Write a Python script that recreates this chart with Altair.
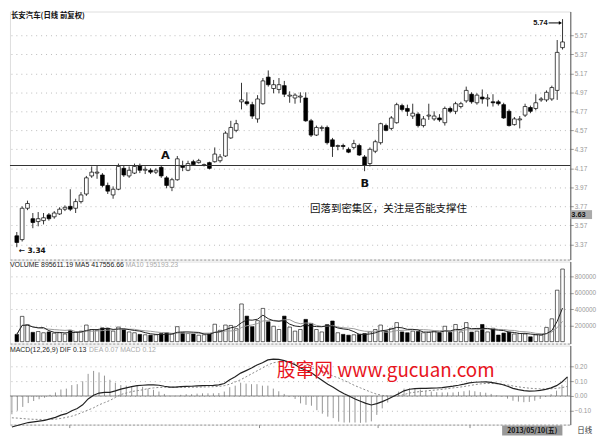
import altair as alt
import pandas as pd

# ---------------- data ----------------
opens = [3.46,3.42,3.75,3.64,3.61,3.62,3.68,3.66,3.69,3.74,
         3.77,3.75,3.82,3.90,4.09,4.12,4.10,3.99,3.89,3.95,
         4.17,4.09,4.12,4.20,4.15,4.15,4.13,4.18,4.07,3.97,
         4.05,4.20,4.15,4.24,4.23,4.20,4.23,4.24,4.25,4.30,
         4.49,4.57,4.87,4.87,4.84,4.69,4.85,5.13,5.01,5.00,
         5.04,4.93,4.91,4.92,4.91,4.67,4.52,4.59,4.60,4.47,
         4.40,4.41,4.37,4.39,4.41,4.29,4.22,4.35,4.44,4.62,
         4.59,4.65,4.83,4.80,4.72,4.74,4.62,4.72,4.69,4.70,
         4.65,4.80,4.77,4.82,4.88,4.95,4.86,4.92,4.90,4.87,
         4.87,4.84,4.77,4.63,4.68,4.73,4.81,4.80,4.89,4.89,
         4.90,4.99,5.44]
closes = [3.39,3.75,3.80,3.60,3.64,3.65,3.64,3.70,3.74,3.76,
          3.74,3.82,3.89,4.07,4.13,4.13,3.99,3.93,3.95,4.19,
          4.10,4.15,4.19,4.15,4.16,4.13,4.15,4.09,3.99,4.05,
          4.27,4.18,4.22,4.21,4.25,4.21,4.17,4.32,4.29,4.54,
          4.60,4.64,4.89,4.85,4.72,4.90,5.09,5.05,5.05,5.05,
          4.95,4.94,4.94,4.93,4.67,4.52,4.60,4.60,4.44,4.40,
          4.41,4.40,4.34,4.43,4.31,4.20,4.37,4.45,4.64,4.57,
          4.70,4.84,4.79,4.77,4.75,4.62,4.69,4.73,4.72,4.68,
          4.80,4.77,4.85,4.85,4.99,4.87,4.94,4.90,4.91,4.86,
          4.85,4.70,4.62,4.69,4.69,4.82,4.77,4.86,4.90,4.97,
          5.02,5.39,5.50]
highs = [3.50,3.77,3.83,3.70,3.71,3.70,3.70,3.72,3.76,3.78,
         3.95,3.85,3.92,4.09,4.19,4.20,4.12,4.02,3.98,4.22,
         4.20,4.19,4.22,4.22,4.19,4.17,4.17,4.20,4.09,4.07,
         4.30,4.25,4.25,4.26,4.27,4.22,4.24,4.39,4.32,4.56,
         4.67,4.68,5.07,4.97,4.87,4.94,5.12,5.20,5.10,5.12,
         5.09,4.98,4.96,4.97,4.97,4.69,4.62,4.62,4.62,4.49,
         4.42,4.43,4.39,4.47,4.43,4.31,4.39,4.47,4.65,4.64,
         4.72,4.86,4.85,4.84,4.85,4.76,4.72,4.85,4.77,4.74,
         4.82,4.82,4.87,4.87,5.03,4.97,4.96,5.00,4.95,4.95,
         4.89,4.86,4.79,4.71,4.72,4.85,4.83,4.95,4.92,4.99,
         5.04,5.52,5.74]
lows = [3.34,3.40,3.73,3.54,3.56,3.58,3.62,3.64,3.68,3.72,
        3.72,3.70,3.80,3.88,4.07,4.06,3.97,3.90,3.85,3.94,
        4.08,4.07,4.11,4.12,4.11,4.11,4.11,4.07,3.96,3.93,
        4.04,4.14,4.14,4.20,4.22,4.19,4.16,4.23,4.23,4.29,
        4.48,4.55,4.79,4.83,4.69,4.65,4.84,5.03,4.96,4.96,
        4.92,4.86,4.85,4.86,4.66,4.50,4.51,4.56,4.42,4.29,
        4.36,4.37,4.33,4.37,4.30,4.14,4.19,4.33,4.42,4.56,
        4.57,4.64,4.77,4.72,4.69,4.60,4.60,4.68,4.67,4.66,
        4.62,4.75,4.74,4.80,4.86,4.85,4.84,4.85,4.82,4.82,
        4.83,4.69,4.61,4.62,4.59,4.71,4.75,4.78,4.87,4.87,
        4.88,4.89,5.42]
volumes = [90000,312000,210000,115000,125000,110000,120000,105000,110000,95000,
           140000,120000,130000,205000,150000,140000,170000,165000,130000,180000,
           150000,120000,110000,90000,85000,80000,85000,100000,110000,95000,
           185000,110000,100000,95000,80000,85000,95000,215000,140000,205000,
           200000,160000,465000,315000,185000,260000,410000,245000,190000,150000,
           315000,180000,130000,150000,275000,225000,150000,120000,210000,255000,
           110000,90000,80000,85000,90000,100000,120000,150000,205000,130000,
           165000,235000,120000,110000,130000,125000,110000,115000,130000,110000,
           190000,115000,212000,120000,235000,118000,130000,212000,120000,165000,
           82000,106000,118000,95000,100000,95000,60000,85000,80000,176000,
           282000,635000,895611]
dif = [-0.21,-0.20,-0.19,-0.18,-0.175,-0.17,-0.165,-0.155,-0.145,-0.13,
       -0.12,-0.10,-0.085,-0.06,-0.02,0.005,0.02,0.024,0.025,0.035,
       0.047,0.055,0.063,0.07,0.073,0.075,0.076,0.073,0.066,0.06,
       0.06,0.063,0.065,0.066,0.068,0.07,0.071,0.072,0.075,0.085,
       0.11,0.13,0.155,0.172,0.19,0.21,0.225,0.245,0.25,0.248,
       0.24,0.228,0.212,0.19,0.175,0.157,0.13,0.105,0.08,0.06,
       0.035,0.015,-0.002,-0.02,-0.036,-0.05,-0.061,-0.052,-0.038,-0.022,
       -0.004,0.015,0.035,0.046,0.05,0.052,0.052,0.053,0.054,0.057,
       0.062,0.067,0.073,0.08,0.089,0.093,0.095,0.096,0.092,0.085,
       0.078,0.066,0.052,0.043,0.036,0.033,0.034,0.038,0.045,0.055,
       0.07,0.095,0.13]
dea = [-0.148,-0.150,-0.153,-0.156,-0.158,-0.159,-0.159,-0.159,-0.157,-0.152,
       -0.145,-0.137,-0.125,-0.11,-0.095,-0.08,-0.06,-0.045,-0.03,-0.01,
       0.01,0.02,0.03,0.036,0.042,0.05,0.055,0.058,0.059,0.059,
       0.059,0.059,0.059,0.06,0.06,0.061,0.062,0.063,0.065,0.07,
       0.08,0.095,0.11,0.13,0.15,0.17,0.19,0.21,0.225,0.232,
       0.233,0.23,0.222,0.215,0.205,0.19,0.178,0.165,0.15,0.135,
       0.122,0.105,0.088,0.07,0.055,0.04,0.025,0.012,0.004,0.0,
       -0.002,0.0,0.01,0.02,0.026,0.03,0.034,0.038,0.041,0.045,
       0.05,0.055,0.059,0.064,0.07,0.077,0.082,0.085,0.085,0.083,
       0.08,0.075,0.068,0.062,0.057,0.053,0.05,0.048,0.048,0.049,
       0.052,0.057,0.065]

price_ticks = [5.57, 5.37, 5.17, 4.97, 4.77, 4.57, 4.37, 4.17, 3.97, 3.77, 3.57, 3.37]
vol_ticks = [200000, 400000, 600000, 800000]
macd_ticks = [-0.10, 0.00, 0.10, 0.20]
date_ticks = [10.6, 45.4, 67.2, 84.0]
support_level = 4.20

df = pd.DataFrame({"i": list(range(len(opens))), "o": opens, "h": highs, "l": lows,
                   "c": closes, "v": volumes, "dif": dif, "dea": dea})

W = 567
CJK = "Noto Sans CJK SC"
SANS = "Liberation Sans"

xs = alt.Scale(domain=[-0.35, 102.53], nice=False, zero=False)
ps = alt.Scale(domain=[3.21, 5.82], nice=False, zero=False)
vs = alt.Scale(domain=[-23500, 988000], nice=False, zero=False)
ms = alt.Scale(domain=[-0.194, 0.342], nice=False, zero=False)

sep_axis = alt.Axis(title=None, labels=False, ticks=False, grid=False, domain=True,
                    domainColor="#999", domainDash=[2, 2], minExtent=0, maxExtent=0)
bottom_axis = alt.Axis(title=None, labels=False, values=date_ticks, ticks=True, tickSize=3,
                       tickColor="#888", grid=False, domain=True, domainColor="#999",
                       domainDash=[2, 2], minExtent=11, maxExtent=11)


def right_axis(values, fmt):
    return alt.Axis(orient="right", values=values, format=fmt, title=None, grid=True,
                    gridColor="#aaa", gridDash=[1, 4], gridWidth=0.8, labelFontSize=6.5,
                    labelColor="#999", labelFont=SANS, tickColor="#999", tickSize=3,
                    domainColor="#555", minExtent=22, maxExtent=22, labelPadding=1)


PAX = right_axis(price_ticks, ".2f")
VAX = right_axis(vol_ticks, "d")
MAX = right_axis(macd_ticks, ".2f")

x_sep = alt.X("i:Q", scale=xs, axis=sep_axis)
x_bot = alt.X("i:Q", scale=xs, axis=bottom_axis)
up = "datum.c >= datum.o"
base = alt.Chart(df)


def py(field):
    return alt.Y(field, scale=ps, axis=PAX)


def vy(field):
    return alt.Y(field, scale=vs, axis=VAX)


def my(field):
    return alt.Y(field, scale=ms, axis=MAX)


# ---------------- price panel ----------------
wick = base.mark_rule(color="black", strokeWidth=0.8).encode(
    x=x_sep, y=py("l:Q"), y2="h:Q")
body = base.mark_bar(size=3.8, stroke="black", strokeWidth=0.7).encode(
    x=x_sep, y=py("o:Q"), y2="c:Q",
    fill=alt.condition(up, alt.value("white"), alt.value("black")))
support = alt.Chart(pd.DataFrame({"p": [support_level]})).mark_rule(
    color="#333", strokeWidth=1.1).encode(y=py("p:Q"))

ann = pd.DataFrame({"i": [27.75, 65.05], "p": [4.30, 4.01], "t": ["A", "B"]})
ab = alt.Chart(ann).mark_text(fontSize=11.5, fontWeight="bold", font="DejaVu Sans",
                              color="#111").encode(x=x_sep, y=py("p:Q"), text="t:N")
note = alt.Chart(pd.DataFrame({"i": [54.8], "p": [3.74], "t": ["回落到密集区，关注是否能支撑住"]})
                 ).mark_text(align="left", fontSize=10.6, font=CJK, color="#111").encode(
    x=x_sep, y=py("p:Q"), text="t:N")
hi_txt = alt.Chart(pd.DataFrame({"i": [99.2], "p": [5.70], "t": ["5.74"]})).mark_text(
    align="right", fontSize=7.5, fontWeight="bold", font=SANS, color="#111").encode(
    x=x_sep, y=py("p:Q"), text="t:N")
hi_line = alt.Chart(pd.DataFrame({"i": [99.4], "i2": [101.5], "p": [5.70]})).mark_rule(
    color="black", strokeWidth=1).encode(x=x_sep, x2="i2:Q", y=py("p:Q"))
hi_head = alt.Chart(pd.DataFrame({"i": [101.6], "p": [5.70]})).mark_point(
    shape="triangle-right", filled=True, size=14, color="black", opacity=1).encode(
    x=x_sep, y=py("p:Q"))
lo_txt = alt.Chart(pd.DataFrame({"i": [0.35], "p": [3.30], "t": ["← 3.34"]})).mark_text(
    align="left", fontSize=7.5, fontWeight="bold", font="DejaVu Sans", color="#111").encode(
    x=x_sep, y=py("p:Q"), text="t:N")
title = alt.Chart(pd.DataFrame({"t": ["长安汽车(日线 前复权)"]})).mark_text(
    align="left", baseline="middle", fontSize=7.5, fontWeight="bold", font=CJK,
    color="#111").encode(x=alt.value(1), y=alt.value(5), text="t:N")
box = alt.Chart(pd.DataFrame({"t": ["3.63"]})).mark_rect(fill="#aaa").encode(
    x=alt.value(567), x2=alt.value(589), y=alt.value(201), y2=alt.value(210))
box_txt = alt.Chart(pd.DataFrame({"t": ["3.63"]})).mark_text(
    align="left", baseline="middle", fontSize=7.5, fontWeight="bold", font=SANS,
    color="#111").encode(x=alt.value(568), y=alt.value(205.5), text="t:N")

price = alt.layer(wick, body, support, ab, note, hi_line, hi_head, hi_txt, lo_txt,
                  title, box, box_txt).properties(width=W, height=251)

# ---------------- volume panel ----------------
vbars = base.transform_calculate(zero="0").mark_bar(
    size=3.6, stroke="black", strokeWidth=0.6).encode(
    x=x_sep, y=vy("v:Q"), y2="zero:Q",
    fill=alt.condition(up, alt.value("white"), alt.value("black")))
ma5 = base.transform_window(ma5="mean(v)", frame=[-4, 0], sort=[{"field": "i"}]).mark_line(
    color="#222", strokeWidth=1).encode(x=x_sep, y=vy("ma5:Q"))
ma10 = base.transform_window(ma10="mean(v)", frame=[-9, 0], sort=[{"field": "i"}]).mark_line(
    color="#999", strokeWidth=1).encode(x=x_sep, y=vy("ma10:Q"))
vt1 = alt.Chart(pd.DataFrame({"t": ["VOLUME 895611.19  MA5 417556.66"]})).mark_text(
    align="left", baseline="middle", fontSize=7, font=SANS, color="#222").encode(
    x=alt.value(0), y=alt.value(4), text="t:N")
vt2 = alt.Chart(pd.DataFrame({"t": ["MA10 195193.23"]})).mark_text(
    align="left", baseline="middle", fontSize=7, font=SANS, color="#aaa").encode(
    x=alt.value(117), y=alt.value(4), text="t:N")
volume = alt.layer(vbars, ma10, ma5, vt1, vt2).properties(width=W, height=83)

# ---------------- MACD panel ----------------
hist = base.transform_calculate(hist="2*(datum.dif-datum.dea)", zero="0").mark_rule(
    color="#888", strokeWidth=0.9).encode(x=x_bot, y=my("hist:Q"), y2="zero:Q")
zero_line = alt.Chart(pd.DataFrame({"z": [0.0]})).mark_rule(color="#666", strokeWidth=0.8).encode(
    y=my("z:Q"))
dea_line = base.mark_line(color="#888", strokeWidth=1, strokeDash=[2, 2]).encode(
    x=x_bot, y=my("dea:Q"))
dif_line = base.mark_line(color="#222", strokeWidth=1.2).encode(
    x=x_bot, y=my("dif:Q"))
mt1 = alt.Chart(pd.DataFrame({"t": ["MACD(12,26,9) DIF 0.13"]})).mark_text(
    align="left", baseline="middle", fontSize=7, font=SANS, color="#222").encode(
    x=alt.value(0), y=alt.value(5), text="t:N")
mt2 = alt.Chart(pd.DataFrame({"t": ["DEA 0.07  MACD 0.12"]})).mark_text(
    align="left", baseline="middle", fontSize=7, font=SANS, color="#aaa").encode(
    x=alt.value(80), y=alt.value(5), text="t:N")
water = alt.Chart(pd.DataFrame({"t": ["股窜网 www.gucuan.com"]})).mark_text(
    align="left", baseline="middle", fontSize=19, font=CJK, color="#e8141c").encode(
    x=alt.value(270), y=alt.value(25.5), text="t:N")
dbox = alt.Chart(pd.DataFrame({"t": ["2013/05/10(五)"]})).mark_rect(fill="#999").encode(
    x=alt.value(498), x2=alt.value(559), y=alt.value(81), y2=alt.value(91))
dtxt = alt.Chart(pd.DataFrame({"t": ["2013/05/10(五)"]})).mark_text(
    align="center", baseline="middle", fontSize=7, fontWeight="bold", font=CJK,
    color="#111").encode(x=alt.value(528.5), y=alt.value(86), text="t:N")
rtxt = alt.Chart(pd.DataFrame({"t": ["日线"]})).mark_text(
    align="left", baseline="middle", fontSize=7.5, font=CJK, color="#333").encode(
    x=alt.value(574), y=alt.value(86), text="t:N")
macd = alt.layer(hist, zero_line, dea_line, dif_line, mt1, mt2, water, dbox, dtxt, rtxt
                 ).properties(width=W, height=80)

chart = alt.vconcat(price, volume, macd, spacing=0, padding=0).configure_view(
    stroke=None).configure(background="white")

chart.save("out.html", embed_options={"renderer": "svg", "actions": False})
